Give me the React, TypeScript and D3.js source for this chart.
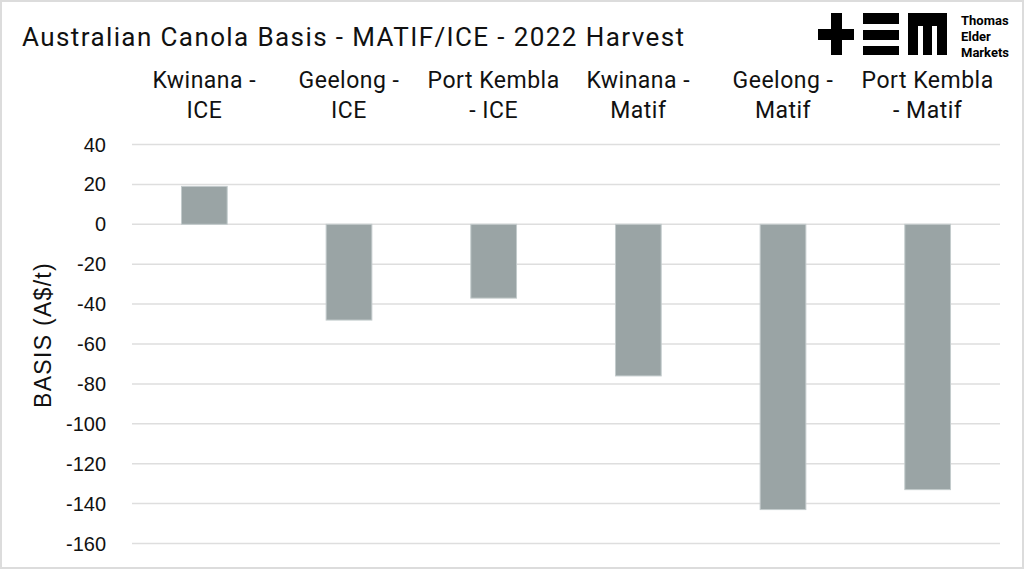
import React, { useEffect, useRef } from 'react';
import * as d3 from 'd3';

const categories = [
  ['Kwinana -', 'ICE'],
  ['Geelong -', 'ICE'],
  ['Port Kembla', '- ICE'],
  ['Kwinana -', 'Matif'],
  ['Geelong -', 'Matif'],
  ['Port Kembla', '- Matif'],
];
const basis = [19, -48, -37, -76, -143, -133];
const yTicks = [40, 20, 0, -20, -40, -60, -80, -100, -120, -140, -160];

const W = 1024;
const H = 569;

const App = () => {
  const svgRef = useRef<SVGSVGElement | null>(null);

  useEffect(() => {
    if (!svgRef.current) return;
    const svg = d3.select(svgRef.current);
    svg.selectAll('*').remove();
    svg.attr('width', W).attr('height', H);

    svg.append('rect')
      .attr('x', 1).attr('y', 1).attr('width', W - 2).attr('height', H - 2)
      .attr('fill', '#fff').attr('stroke', '#dcdcdc').attr('stroke-width', 2);

    const left = 132, right = 1000;
    const keys = categories.map(c => c.join(' '));
    const x = d3.scaleBand<string>().domain(keys).range([left, right]).paddingInner(0.684).paddingOuter(0.342);
    const y = d3.scaleLinear().domain([-160, 40]).range([543.5, 144.5]);

    // gridlines
    svg.append('g').selectAll('line').data(yTicks).enter().append('line')
      .attr('x1', left).attr('x2', right)
      .attr('y1', d => y(d)).attr('y2', d => y(d))
      .attr('stroke', '#dedede').attr('stroke-width', 1.5);

    // y tick labels
    svg.append('g').selectAll('text').data(yTicks).enter().append('text')
      .attr('x', 106).attr('y', d => y(d)).attr('dy', '0.35em')
      .attr('text-anchor', 'end')
      .attr('font-family', '"Liberation Sans", Arial, sans-serif')
      .attr('font-size', 20).attr('fill', '#111')
      .text(d => d);

    // bars
    svg.append('g').selectAll('rect').data(basis).enter().append('rect')
      .attr('x', (_, i) => x(keys[i])!)
      .attr('width', x.bandwidth())
      .attr('y', d => y(Math.max(0, d)))
      .attr('height', d => Math.abs(y(d) - y(0)))
      .attr('fill', '#9aa4a5').attr('stroke', '#c3cbcc').attr('stroke-width', 1);

    // category labels at top
    const cx = (i: number) => x(keys[i])! + x.bandwidth() / 2;
    const cat = svg.append('g').selectAll('text').data(categories).enter().append('text')
      .attr('text-anchor', 'middle')
      .attr('font-family', 'Roboto, sans-serif')
      .attr('font-size', 23).attr('letter-spacing', 0.5).attr('fill', '#111');
    cat.append('tspan').attr('x', (_, i) => cx(i)).attr('y', 88).text(d => d[0]);
    cat.append('tspan').attr('x', (_, i) => cx(i)).attr('y', 118).text(d => d[1]);

    // axis title
    svg.append('text')
      .attr('transform', `translate(51,335) rotate(-90)`)
      .attr('text-anchor', 'middle')
      .attr('font-family', '"Liberation Sans", Arial, sans-serif')
      .attr('font-size', 23).attr('letter-spacing', 1.3).attr('fill', '#111')
      .text('BASIS (A$/t)');

    // title
    svg.append('text')
      .attr('x', 22).attr('y', 46)
      .attr('font-family', 'Roboto, sans-serif')
      .attr('font-size', 26).attr('fill', '#111')
      .attr('textLength', 662).attr('lengthAdjust', 'spacing')
      .text('Australian Canola Basis - MATIF/ICE - 2022 Harvest');

    // logo
    const logo = svg.append('g').attr('fill', '#000');
    const blocks: [number, number, number, number][] = [
      [818, 29, 36, 11], [831, 13, 11, 42],
      [863, 13, 36, 11], [863, 30, 36, 10], [863, 46, 36, 9],
      [908, 13, 39, 13], [908, 26, 10, 29], [923, 26, 9, 29], [937, 26, 10, 29],
    ];
    logo.selectAll('rect').data(blocks).enter().append('rect')
      .attr('x', d => d[0]).attr('y', d => d[1]).attr('width', d => d[2]).attr('height', d => d[3]);
    ['Thomas', 'Elder', 'Markets'].forEach((t, i) => {
      logo.append('text')
        .attr('x', 961).attr('y', 25 + i * 16)
        .attr('font-family', 'Roboto, sans-serif').attr('font-weight', 'bold')
        .attr('font-size', 13)
        .text(t);
    });
  }, []);

  return (
    <div style={{ position: 'absolute', left: 0, top: 0 }}>
      <svg ref={svgRef}></svg>
    </div>
  );
};

export default App;
